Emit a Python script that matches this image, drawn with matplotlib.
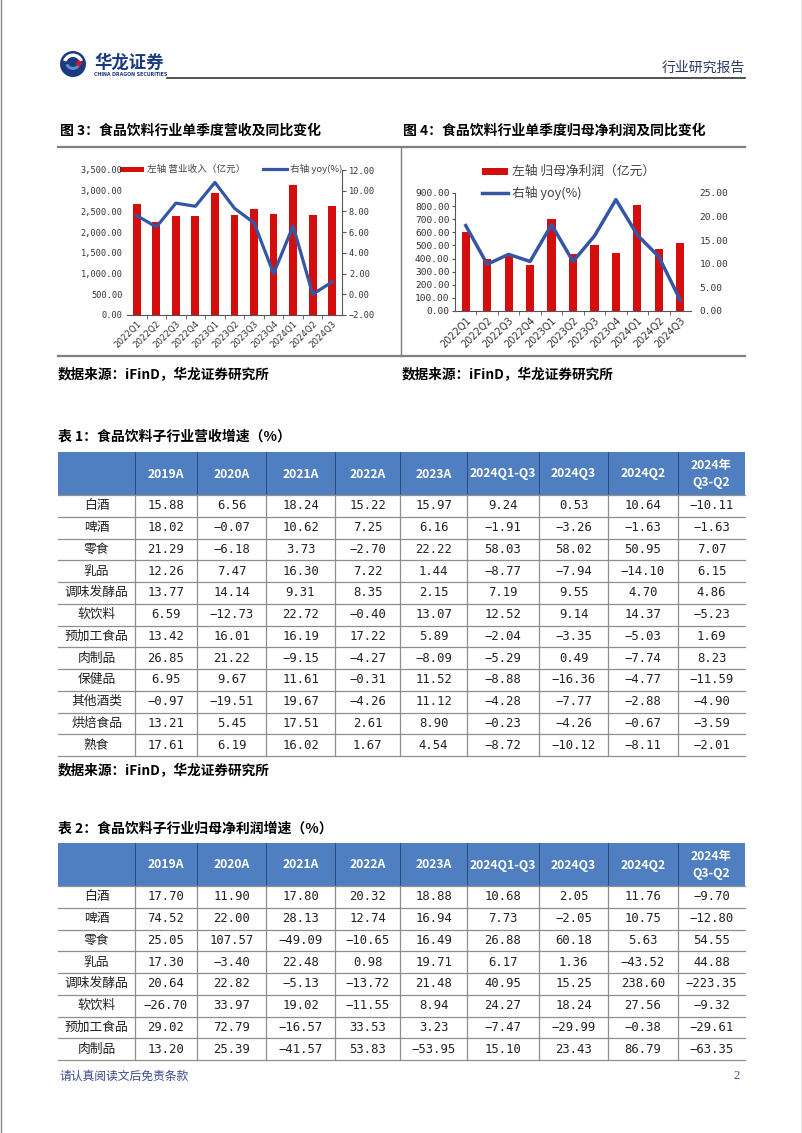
import numpy as np
import matplotlib
matplotlib.use('Agg')
import matplotlib.pyplot as plt
from matplotlib.patches import Rectangle, Circle, Wedge, Polygon

plt.rcParams['font.family'] = ['Noto Sans CJK SC', 'DejaVu Sans']

# ---- data ----
quarters = ['2022Q1', '2022Q2', '2022Q3', '2022Q4', '2023Q1', '2023Q2',
            '2023Q3', '2023Q4', '2024Q1', '2024Q2', '2024Q3']
revenue = [2680, 2250, 2380, 2380, 2935, 2420, 2555, 2445, 3145, 2420, 2635]
revenue_yoy = [7.6, 6.5, 8.8, 8.5, 10.8, 8.3, 6.9, 2.0, 6.6, 0.0, 1.2]
profit = [605, 400, 418, 352, 705, 433, 500, 444, 811, 474, 515]
profit_yoy = [18.1, 9.9, 12.0, 10.5, 18.3, 10.5, 15.9, 23.6, 16.1, 11.5, 2.3]

col_heads = ['2019A', '2020A', '2021A', '2022A', '2023A', '2024Q1-Q3',
             '2024Q3', '2024Q2', '2024年\nQ3-Q2']

t1_names = ['白酒', '啤酒', '零食', '乳品', '调味发酵品', '软饮料', '预加工食品',
            '肉制品', '保健品', '其他酒类', '烘焙食品', '熟食']
t1_data = [
    [15.88, 6.56, 18.24, 15.22, 15.97, 9.24, 0.53, 10.64, -10.11],
    [18.02, -0.07, 10.62, 7.25, 6.16, -1.91, -3.26, -1.63, -1.63],
    [21.29, -6.18, 3.73, -2.70, 22.22, 58.03, 58.02, 50.95, 7.07],
    [12.26, 7.47, 16.30, 7.22, 1.44, -8.77, -7.94, -14.10, 6.15],
    [13.77, 14.14, 9.31, 8.35, 2.15, 7.19, 9.55, 4.70, 4.86],
    [6.59, -12.73, 22.72, -0.40, 13.07, 12.52, 9.14, 14.37, -5.23],
    [13.42, 16.01, 16.19, 17.22, 5.89, -2.04, -3.35, -5.03, 1.69],
    [26.85, 21.22, -9.15, -4.27, -8.09, -5.29, 0.49, -7.74, 8.23],
    [6.95, 9.67, 11.61, -0.31, 11.52, -8.88, -16.36, -4.77, -11.59],
    [-0.97, -19.51, 19.67, -4.26, 11.12, -4.28, -7.77, -2.88, -4.90],
    [13.21, 5.45, 17.51, 2.61, 8.90, -0.23, -4.26, -0.67, -3.59],
    [17.61, 6.19, 16.02, 1.67, 4.54, -8.72, -10.12, -8.11, -2.01],
]

t2_names = ['白酒', '啤酒', '零食', '乳品', '调味发酵品', '软饮料', '预加工食品', '肉制品']
t2_data = [
    [17.70, 11.90, 17.80, 20.32, 18.88, 10.68, 2.05, 11.76, -9.70],
    [74.52, 22.00, 28.13, 12.74, 16.94, 7.73, -2.05, 10.75, -12.80],
    [25.05, 107.57, -49.09, -10.65, 16.49, 26.88, 60.18, 5.63, 54.55],
    [17.30, -3.40, 22.48, 0.98, 19.71, 6.17, 1.36, -43.52, 44.88],
    [20.64, 22.82, -5.13, -13.72, 21.48, 40.95, 15.25, 238.60, -223.35],
    [-26.70, 33.97, 19.02, -11.55, 8.94, 24.27, 18.24, 27.56, -9.32],
    [29.02, 72.79, -16.57, 33.53, 3.23, -7.47, -29.99, -0.38, -29.61],
    [13.20, 25.39, -41.57, 53.83, -53.95, 15.10, 23.43, 86.79, -63.35],
]

RED = '#D40D0D'
BLUE = '#3457A5'
NAVY = '#1C3A7E'
HEAD = '#4F7FC0'
GRID = '#8f8f8f'
W, H = 802, 1133

fig = plt.figure(figsize=(W / 100, H / 100), dpi=100)
page = fig.add_axes([0, 0, 1, 1], zorder=0)
page.set_xlim(0, W)
page.set_ylim(H, 0)
page.axis('off')


def rect(l, t, r, b):
    return [l / W, 1 - b / H, (r - l) / W, (b - t) / H]


def fmt(v):
    return f'{v:.2f}'.replace('-', '−')


# ---- page frame / header ----
page.plot([0.5, 0.5], [0, H], color='#8a8a8a', lw=1)
page.plot([W - 0.5, W - 0.5], [0, H], color='#8a8a8a', lw=1)

page.add_patch(Circle((73, 64), 13, color=NAVY, lw=0))
page.add_patch(Wedge((73, 64), 10.5, 200, 340, width=3.5, color='white', lw=0))
page.add_patch(Wedge((73, 62), 8, 20, 160, width=3, color='#5b8fd0', lw=0))
page.add_patch(Polygon([(79, 60), (82.5, 63.5), (79, 67), (75.5, 63.5)], color='#E0141E', lw=0))
page.text(94, 63, '华龙证券', fontsize=12.5, fontweight='bold', color=NAVY, va='center', ha='left')
page.text(94, 74.5, 'CHINA DRAGON SECURITIES', fontsize=3.4, fontweight='bold', color=NAVY,
          va='center', ha='left', family='DejaVu Sans')
page.plot([167, 745], [77.5, 77.5], color='#333333', lw=1.2)
page.text(745, 68, '行业研究报告', fontsize=10, color='#2B3A6B', va='center', ha='right')

# ---- chart section frame ----
page.text(60, 131, '图 3：食品饮料行业单季度营收及同比变化', fontsize=10, fontweight='bold', va='center')
page.text(403, 131, '图 4：食品饮料行业单季度归母净利润及同比变化', fontsize=10, fontweight='bold', va='center')
page.plot([58, 745], [147, 147], color='#7f7f7f', lw=1.6)
page.plot([58, 745], [356, 356], color='#7f7f7f', lw=1.6)
page.plot([401, 401], [147, 356], color='#7f7f7f', lw=1)
page.text(58, 375, '数据来源：iFinD，华龙证券研究所', fontsize=9.8, fontweight='bold', va='center')
page.text(402, 375, '数据来源：iFinD，华龙证券研究所', fontsize=9.8, fontweight='bold', va='center')

x = np.arange(len(quarters))
tick_kw = dict(family='DejaVu Sans Mono', color='#333333')

# ---- chart 3 ----
ax1 = fig.add_axes(rect(127, 170, 342, 315), zorder=2)
ax1.set_facecolor('none')
ax1.bar(x, revenue, width=0.4, color=RED, zorder=2)
ax1.set_xlim(-0.5, len(quarters) - 0.5)
ax1.set_ylim(0, 3500)
yt = np.arange(0, 3501, 500)
ax1.set_yticks(yt)
ax1.set_yticklabels([f'{v:,.2f}' for v in yt], fontsize=6.2, **tick_kw)
ax1.tick_params(axis='y', length=0, pad=3)
ax1.set_xticks(x)
ax1.set_xticklabels(quarters, rotation=45, ha='right', rotation_mode='anchor',
                    fontsize=6.2, family='DejaVu Sans', color='#333333')
ax1.set_xticks(x[:-1] + 0.5, minor=True)
ax1.tick_params(axis='x', which='major', length=0, pad=3)
ax1.tick_params(axis='x', which='minor', length=3, direction='out', color='#555555')
for s in ['top', 'left', 'right']:
    ax1.spines[s].set_visible(False)
ax1.spines['bottom'].set_color('#555555')
ax1r = ax1.twinx()
ax1r.plot(x, revenue_yoy, color=BLUE, lw=2.3, zorder=3)
ax1r.set_ylim(-2, 12)
yt2 = np.arange(-2, 12.1, 2)
ax1r.set_yticks(yt2)
ax1r.set_yticklabels([fmt(v) for v in yt2], fontsize=6.2, **tick_kw)
ax1r.tick_params(axis='y', length=3, direction='out', color='#555555', pad=2)
for s in ['top', 'left', 'bottom']:
    ax1r.spines[s].set_visible(False)
ax1r.spines['right'].set_color('#555555')

# legend 3
page.add_patch(Rectangle((120, 166.5), 24, 5, color=RED, lw=0, zorder=5))
page.text(147, 169, '左轴 营业收入（亿元）', fontsize=6.9, color='#444444', va='center', zorder=5)
page.plot([263, 287], [169, 169], color=BLUE, lw=2.3, zorder=5)
page.text(290, 169, '右轴 yoy(%)', fontsize=6.9, color='#444444', va='center', zorder=5)

# ---- chart 4 ----
ax2 = fig.add_axes(rect(455, 193, 691, 311), zorder=2)
ax2.set_facecolor('none')
ax2.bar(x, profit, width=0.38, color=RED, zorder=2)
ax2.set_xlim(-0.5, len(quarters) - 0.5)
ax2.set_ylim(0, 900)
yt = np.arange(0, 901, 100)
ax2.set_yticks(yt)
ax2.set_yticklabels([fmt(v) for v in yt], fontsize=6.8, **tick_kw)
ax2.tick_params(axis='y', length=2, direction='out', color='#555555', pad=2)
ax2.set_xticks(x)
ax2.set_xticklabels(quarters, rotation=45, ha='right', rotation_mode='anchor',
                    fontsize=7, family='DejaVu Sans', color='#333333')
ax2.set_xticks(x[:-1] + 0.5, minor=True)
ax2.tick_params(axis='x', which='major', length=0, pad=3)
ax2.tick_params(axis='x', which='minor', length=3, direction='out', color='#555555')
for s in ['top', 'right']:
    ax2.spines[s].set_visible(False)
ax2.spines['bottom'].set_color('#555555')
ax2.spines['left'].set_color('#555555')
ax2r = ax2.twinx()
ax2r.plot(x, profit_yoy, color=BLUE, lw=2.5, zorder=3)
ax2r.set_ylim(0, 25)
yt2 = np.arange(0, 25.1, 5)
ax2r.set_yticks(yt2)
ax2r.set_yticklabels([fmt(v) for v in yt2], fontsize=6.8, **tick_kw)
ax2r.tick_params(axis='y', length=0, pad=6)
for s in ['top', 'left', 'bottom', 'right']:
    ax2r.spines[s].set_visible(False)

# legend 4
page.add_patch(Rectangle((482, 167.5), 26, 7, color=RED, lw=0, zorder=5))
page.text(512, 171, '左轴 归母净利润（亿元）', fontsize=9.2, color='#444444', va='center', zorder=5)
page.plot([482, 508], [193, 193], color=BLUE, lw=2.5, zorder=5)
page.text(512, 193, '右轴 yoy(%)', fontsize=9.2, color='#444444', va='center', zorder=5)

# ---- tables ----
cols = [58, 135, 197, 266, 335, 400, 467, 539, 608, 678, 745]
HEAD_H = 43
ROW_H = 21.75


def draw_table(top, names, data):
    page.add_patch(Rectangle((cols[0], top), cols[-1] - cols[0], HEAD_H, color=HEAD, lw=0))
    for j, h in enumerate(col_heads):
        cx = (cols[j + 1] + cols[j + 2]) / 2
        page.text(cx, top + HEAD_H / 2 + 0.5, h, fontsize=8.8, fontweight='bold', color='white',
                  ha='center', va='center', linespacing=1.45)
    for c in cols[1:-1]:
        page.plot([c, c], [top, top + HEAD_H], color='#2c4a78', lw=0.7)
    y0 = top + HEAD_H
    n = len(names)
    for i, (name, row) in enumerate(zip(names, data)):
        yc = y0 + (i + 0.5) * ROW_H
        page.text((cols[0] + cols[1]) / 2, yc, name, fontsize=9.2, color='#222222',
                  ha='center', va='center')
        for j, v in enumerate(row):
            page.text((cols[j + 1] + cols[j + 2]) / 2, yc, fmt(v), fontsize=8.8,
                      family='DejaVu Sans Mono', color='#222222', ha='center', va='center')
        page.plot([cols[0], cols[-1]], [y0 + (i + 1) * ROW_H] * 2, color=GRID, lw=0.9)
    page.plot([cols[0], cols[-1]], [y0, y0], color=GRID, lw=0.9)
    for c in cols[1:-1]:
        page.plot([c, c], [y0, y0 + n * ROW_H], color=GRID, lw=0.9)
    return y0 + n * ROW_H


page.text(58, 437, '表 1：食品饮料子行业营收增速（%）', fontsize=10, fontweight='bold', va='center')
draw_table(452, t1_names, t1_data)
page.text(58, 771, '数据来源：iFinD，华龙证券研究所', fontsize=9.8, fontweight='bold', va='center')

page.text(58, 829, '表 2：食品饮料子行业归母净利润增速（%）', fontsize=10, fontweight='bold', va='center')
draw_table(843, t2_names, t2_data)

# ---- footer ----
page.text(60, 1076, '请认真阅读文后免责条款', fontsize=8.5, color='#3B4A8C', va='center')
page.text(737, 1076, '2', fontsize=9, color='#3B4A8C', va='center', ha='center',
          family='Liberation Serif')

fig.savefig('out.png', dpi=100)
